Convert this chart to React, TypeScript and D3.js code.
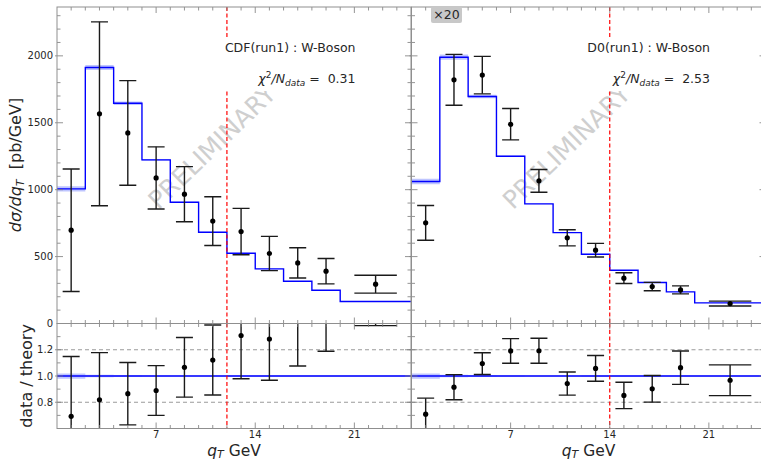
import React from 'react';
import * as d3 from 'd3';

// q_T bins (GeV) shared by both measurements
const binEdges = [0, 2, 4, 6, 8, 10, 12, 14, 16, 18, 20, 25];
const binCenters = [1, 3, 5, 7, 9, 11, 13, 15, 17, 19, 22.5];

// CDF run 1 W-boson
const cdfTheory = [1006, 1913, 1646, 1223, 906, 682, 525, 408, 316, 249, 164];
const cdfBand = [0.02, 0.01, 0.008, 0.005, 0.004, 0.004, 0.005, 0.005, 0.006, 0.006, 0.006];
const cdfData = [697, 1567, 1424, 1088, 966, 765, 687, 523, 453, 391, 294];
const cdfErr = [458, 687, 391, 232, 206, 182, 173, 128, 113, 95, 67];

// D0 run 1 W-boson (scaled x20)
const d0Theory = [1061, 1990, 1696, 1250, 894, 679, 518, 398, 306, 236, 154];
const d0Band = [0.02, 0.01, 0.008, 0.005, 0.004, 0.004, 0.005, 0.005, 0.006, 0.006, 0.006];
const d0Data = [752, 1821, 1856, 1489, 1066, 640, 548, 339, 276, 251, 149];
const d0Err = [130, 190, 140, 117, 85, 60, 51, 40, 31, 30, 18];

const panelTitles = ['CDF(run1) : W-Boson', 'D0(run1) : W-Boson'];
const chi2Values = ['0.31', '2.53'];
const cutLines = [12, 14];

const xMajorTicks = [7, 14, 21];
const yMajorTicks = [0, 500, 1000, 1500, 2000];
const ratioMajorTicks = [0.8, 1.0, 1.2];
const ratioGrid = [0.8, 1.2];

const FONT = '"DejaVu Sans", Verdana, sans-serif';
const W = 761;
const H = 460;
const TOP = 7;
const MID = 323.5;
const BOT = 428.5;
const SPINE = '#8f8f8f';
const TICK = '#7a7a7a';
const LABEL = '#262626';

const panels = [
  { x0: 57, x1: 411, theory: cdfTheory, band: cdfBand, data: cdfData, err: cdfErr },
  { x0: 411.5, x1: 765.5, theory: d0Theory, band: d0Band, data: d0Data, err: d0Err },
];

const yTop = d3.scaleLinear().domain([0, 2365]).range([MID, TOP]);
const yRat = d3.scaleLinear().domain([0.6, 1.4]).range([BOT, MID]);

function Panel({ idx }: { idx: number }) {
  const p = panels[idx];
  const x = d3.scaleLinear().domain([0, 25]).range([p.x0, p.x1]);
  const n = p.theory.length;
  const stepPts = d3.range(n + 1).map((i) => i);
  const val = (arr: number[], i: number) => arr[Math.min(i, n - 1)];

  const line = d3
    .line<number>()
    .x((i) => x(binEdges[i]))
    .y((i) => yTop(val(p.theory, i)))
    .curve(d3.curveStepAfter);
  const area = d3
    .area<number>()
    .x((i) => x(binEdges[i]))
    .y0((i) => yTop(val(p.theory, i) * (1 - val(p.band, i))))
    .y1((i) => yTop(val(p.theory, i) * (1 + val(p.band, i))))
    .curve(d3.curveStepAfter);
  const rLine = d3
    .line<number>()
    .x((i) => x(binEdges[i]))
    .y(() => yRat(1))
    .curve(d3.curveStepAfter);
  const rArea = d3
    .area<number>()
    .x((i) => x(binEdges[i]))
    .y0((i) => yRat(1 - val(p.band, i)))
    .y1((i) => yRat(1 + val(p.band, i)))
    .curve(d3.curveStepAfter);

  const xMinor = d3.range(1, 25);
  const yMinor = d3.range(100, 2365, 100);
  const rMinor = d3.range(0.7, 1.4, 0.1);
  const cx = (p.x0 + p.x1) / 2;
  const textEnd = p.x1 - 55.5;
  const cut = x(cutLines[idx]);

  const errBars = (yS: d3.ScaleLinear<number, number>, ratio: boolean) =>
    p.data.map((d, i) => {
      const t = ratio ? p.theory[i] : 1;
      const xc = x(binCenters[i]);
      const half = ((binEdges[i + 1] - binEdges[i]) * 0.3) * (x(1) - x(0));
      const yHi = yS((d + p.err[i]) / t);
      const yLo = yS((d - p.err[i]) / t);
      return (
        <g key={i}>
          <line x1={xc} x2={xc} y1={yHi} y2={yLo} stroke="#1a1a1a" strokeWidth={1.4} />
          <line x1={xc - half} x2={xc + half} y1={yHi} y2={yHi} stroke="#1a1a1a" strokeWidth={1.4} />
          <line x1={xc - half} x2={xc + half} y1={yLo} y2={yLo} stroke="#1a1a1a" strokeWidth={1.4} />
          <circle cx={xc} cy={yS(d / t)} r={2.6} fill="#000" />
        </g>
      );
    });

  return (
    <g>
      <defs>
        <clipPath id={`clipTop${idx}`}>
          <rect x={p.x0} y={TOP} width={p.x1 - p.x0} height={MID - TOP} />
        </clipPath>
        <clipPath id={`clipRat${idx}`}>
          <rect x={p.x0} y={MID} width={p.x1 - p.x0} height={BOT - MID} />
        </clipPath>
      </defs>

      {/* upper panel: cross section */}
      <g clipPath={`url(#clipTop${idx})`}>
        <text
          transform={`translate(${cx - 22},147) rotate(-44)`}
          textAnchor="middle"
          dominantBaseline="central"
          fontFamily={FONT}
          fontSize={25}
          fill="#cfcfcf"
        >
          PRELIMINARY
        </text>
        <path d={area(stepPts) || ''} fill="rgba(70,90,255,0.35)" />
        <path d={line(stepPts) || ''} fill="none" stroke="#0000ff" strokeWidth={1.4} />
        {errBars(yTop, false)}
        <line x1={cut} x2={cut} y1={TOP} y2={MID} stroke="#ff0000" strokeWidth={1.2} strokeDasharray="4,2.5" />
        <rect x={textEnd - 142} y={37} width={146} height={54} fill="#fff" />
      </g>

      <text x={textEnd} y={52} textAnchor="end" fontFamily={FONT} fontSize={12.5} fill={LABEL}>
        {panelTitles[idx]}
      </text>
      <text x={textEnd} y={83} textAnchor="end" fontFamily={FONT} fontSize={12.5} fill={LABEL}>
        <tspan fontStyle="italic">χ</tspan>
        <tspan fontSize={9} dy={-5}>2</tspan>
        <tspan fontStyle="italic" dy={5}>/N</tspan>
        <tspan fontStyle="italic" fontSize={9} dy={3}>data</tspan>
        <tspan dy={-3}>{'\u00a0=\u00a0\u00a0' + chi2Values[idx]}</tspan>
      </text>

      {/* lower panel: data / theory */}
      <g clipPath={`url(#clipRat${idx})`}>
        {ratioGrid.map((v) => (
          <line key={v} x1={p.x0} x2={p.x1} y1={yRat(v)} y2={yRat(v)} stroke="#9a9a9a" strokeDasharray="4,3" strokeWidth={1} />
        ))}
        <path d={rArea(stepPts) || ''} fill="rgba(70,90,255,0.35)" />
        <path d={rLine(stepPts) || ''} fill="none" stroke="#0000ff" strokeWidth={1.4} />
        {errBars(yRat, true)}
        <line x1={cut} x2={cut} y1={MID} y2={BOT} stroke="#ff0000" strokeWidth={1.2} strokeDasharray="4,2.5" />
      </g>

      {/* ticks */}
      <g stroke={TICK} strokeWidth={0.8}>
        {xMinor.map((v) => {
          const major = xMajorTicks.includes(v);
          const L = major ? 6 : 3.5;
          const xv = x(v);
          return (
            <g key={v}>
              <line x1={xv} x2={xv} y1={TOP} y2={TOP + L} />
              <line x1={xv} x2={xv} y1={MID} y2={MID - L} />
              <line x1={xv} x2={xv} y1={MID} y2={MID + L} />
              <line x1={xv} x2={xv} y1={BOT} y2={BOT - L} />
            </g>
          );
        })}
        {yMinor.map((v) => {
          const major = v % 500 === 0;
          const L = major ? 6 : 3.5;
          const yv = yTop(v);
          return (
            <g key={v}>
              <line x1={p.x0 - (major ? 2 : 0)} x2={p.x0 + L} y1={yv} y2={yv} />
              <line x1={p.x1} x2={p.x1 - L} y1={yv} y2={yv} />
            </g>
          );
        })}
        {rMinor.map((v) => {
          const major = ratioMajorTicks.some((m) => Math.abs(m - v) < 1e-6);
          const L = major ? 6 : 3.5;
          const yv = yRat(v);
          return (
            <g key={v.toFixed(1)}>
              <line x1={p.x0 - (major ? 2 : 0)} x2={p.x0 + L} y1={yv} y2={yv} />
              <line x1={p.x1} x2={p.x1 - L} y1={yv} y2={yv} />
            </g>
          );
        })}
      </g>

      {/* spines */}
      <rect x={p.x0} y={TOP} width={p.x1 - p.x0} height={MID - TOP} fill="none" stroke={SPINE} strokeWidth={1} />
      <rect x={p.x0} y={MID} width={p.x1 - p.x0} height={BOT - MID} fill="none" stroke={SPINE} strokeWidth={1} />

      {/* x tick labels and title */}
      {xMajorTicks.map((v) => (
        <text key={v} x={x(v)} y={437.5} textAnchor="middle" fontFamily={FONT} fontSize={10} fill={LABEL}>
          {v}
        </text>
      ))}
      <text x={cx} y={455.5} textAnchor="middle" fontFamily={FONT} fontSize={15.5} fill={LABEL}>
        <tspan fontStyle="italic">q</tspan>
        <tspan fontStyle="italic" fontSize={11} dy={2.5}>T</tspan>
        <tspan dy={-2.5}>{'\u00a0GeV'}</tspan>
      </text>

      {idx === 0 && (
        <g fontFamily={FONT} fill={LABEL}>
          {yMajorTicks.map((v) => (
            <text key={v} x={53} y={yTop(v)} dy="0.35em" textAnchor="end" fontSize={10}>
              {v}
            </text>
          ))}
          {ratioMajorTicks.map((v) => (
            <text key={v} x={53} y={yRat(v)} dy="0.35em" textAnchor="end" fontSize={10}>
              {v.toFixed(1)}
            </text>
          ))}
          <text transform="translate(21,165) rotate(-90)" textAnchor="middle" fontSize={16}>
            <tspan fontStyle="italic">dσ/dq</tspan>
            <tspan fontStyle="italic" fontSize={11} dy={3}>T</tspan>
            <tspan dy={-3}>{'\u00a0\u00a0[pb/GeV]'}</tspan>
          </text>
          <text transform="translate(32,376) rotate(-90)" textAnchor="middle" fontSize={16}>
            data / theory
          </text>
        </g>
      )}

      {idx === 1 && (
        <g>
          <rect x={431} y={6.5} width={31} height={16.5} rx={2} fill="#c8c8c8" />
          <text x={446.5} y={19} textAnchor="middle" fontFamily={FONT} fontSize={12.5} fill={LABEL}>
            ×20
          </text>
        </g>
      )}
    </g>
  );
}

export default function App() {
  return (
    <svg
      width={W}
      height={H}
      viewBox={`0 0 ${W} ${H}`}
      style={{ position: 'absolute', left: 0, top: 0, background: '#fff' }}
    >
      <rect x={0} y={0} width={W} height={H} fill="#fff" />
      <Panel idx={0} />
      <Panel idx={1} />
    </svg>
  );
}
